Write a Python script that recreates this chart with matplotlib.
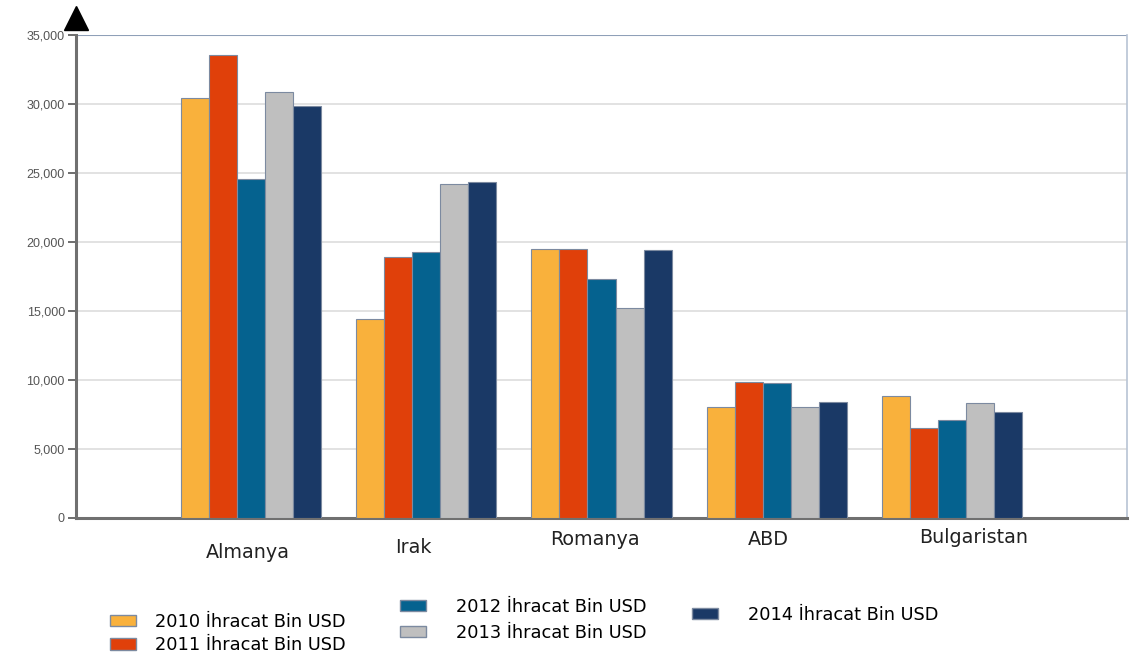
import matplotlib
matplotlib.use("Agg")
import matplotlib.pyplot as plt
import matplotlib.transforms as mtrans
import numpy as np
from matplotlib.patches import Patch
from matplotlib.ticker import FuncFormatter

categories = ["Almanya", "Irak", "Romanya", "ABD", "Bulgaristan"]
series_names = ["2010 İhracat Bin USD", "2011 İhracat Bin USD", "2012 İhracat Bin USD",
                "2013 İhracat Bin USD", "2014 İhracat Bin USD"]
v2010 = [30400, 14420, 19490, 8040, 8840]
v2011 = [33550, 18910, 19490, 9850, 6520]
v2012 = [24560, 19280, 17320, 9780, 7100]
v2013 = [30870, 24200, 15220, 8040, 8330]
v2014 = [29850, 24350, 19420, 8400, 7680]
yticks = [0, 5000, 10000, 15000, 20000, 25000, 30000, 35000]

colors = ["#F9B13C", "#E0400A", "#05628F", "#BFBFBF", "#1A3966"]
edge = "#7C8AA0"

plt.rcParams['font.family'] = ['DejaVu Sans']

fig = plt.figure(figsize=(11.41, 6.63), dpi=100)
ax = fig.add_axes([76/1141, 1-518/663, (1127-76)/1141, (518-35)/663])

x = np.arange(len(categories))
w = 0.16
all_vals = [v2010, v2011, v2012, v2013, v2014]
for i, vals in enumerate(all_vals):
    ax.bar(x + (i - 2) * w, vals, width=w, color=colors[i], edgecolor=edge,
           linewidth=0.8, zorder=3)

ax.set_xlim(-1, 5)
ax.set_ylim(0, 35000)
ax.set_yticks(yticks)
ax.yaxis.set_major_formatter(FuncFormatter(lambda v, p: f"{int(v):,}"))
ax.tick_params(axis='y', labelsize=9, labelcolor="#555555", length=6, width=1.2,
               color="#555555", pad=2)
for t in ax.get_yticklabels():
    t.set_family(['Liberation Sans', 'DejaVu Sans'])
ax.grid(axis='y', color="#DDDDDD", linewidth=1.2, zorder=0)
ax.axhline(35000, color="#8FA0B8", linewidth=1.5, zorder=2)

ax.set_xticks(x)
ax.set_xticklabels(categories, fontsize=13.8, color="#222222")
ax.tick_params(axis='x', length=0, pad=8)
label_dy = [-14, -9, -1, -1, 1]
label_dx = [-3, -13, -7, -8, 22]
for t, dx, dy in zip(ax.get_xticklabels(), label_dx, label_dy):
    t.set_transform(t.get_transform() + mtrans.ScaledTranslation(dx/100, dy/100, fig.dpi_scale_trans))

for s in ["left", "bottom"]:
    ax.spines[s].set_color("#707070")
    ax.spines[s].set_linewidth(2.2)
ax.spines["right"].set_color("#B8C4D4")
ax.spines["right"].set_linewidth(1.2)
ax.spines["top"].set_visible(False)

# arrow head on y axis
arrow, = ax.plot([0], [1], marker='^', markersize=17, color='black', clip_on=False, zorder=5)
arrow.set_transform(ax.transAxes + mtrans.ScaledTranslation(0, 0.17, fig.dpi_scale_trans))

def handles(idx):
    return [Patch(facecolor=colors[i], edgecolor=edge, linewidth=1.0) for i in idx]

leg_kw = dict(frameon=False, fontsize=12.8, handlelength=1.45, handleheight=0.6,
              borderaxespad=0, borderpad=0)
l1 = fig.legend(handles([0, 1]), series_names[0:2], loc='upper left',
                bbox_to_anchor=(110/1141, 1-613/663), labelspacing=0.3,
                handletextpad=1.1, **leg_kw)
l2 = fig.legend(handles([2, 3]), series_names[2:4], loc='upper left',
                bbox_to_anchor=(400/1141, 1-598/663), labelspacing=0.45,
                handletextpad=1.7, **leg_kw)
l3 = fig.legend(handles([4]), series_names[4:5], loc='upper left',
                bbox_to_anchor=(692/1141, 1-606/663), handletextpad=1.7, **leg_kw)

fig.savefig("out.png", dpi=100, facecolor="white")
